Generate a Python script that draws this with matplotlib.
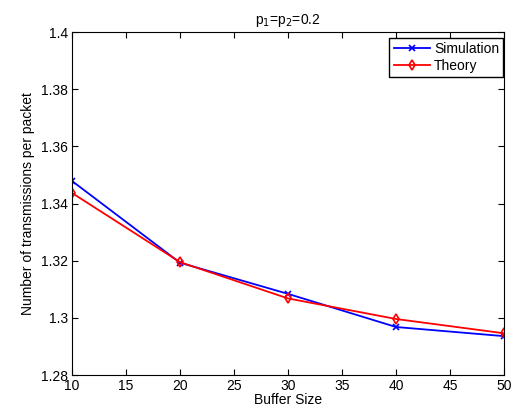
import matplotlib
matplotlib.use('Agg')
import matplotlib.pyplot as plt

plt.rcParams['font.family'] = ['Liberation Sans', 'DejaVu Sans']

# Data
buffer_size = [10, 20, 30, 40, 50]
simulasi = [1.3479, 1.3193, 1.3084, 1.2968, 1.2936]
teori = [1.3437, 1.3195, 1.3068, 1.2996, 1.2946]

fig = plt.figure(figsize=(5.22, 4.12), dpi=100)
ax = fig.add_axes([0.138, 0.0898, 0.8275, 0.8322])

ax.plot(buffer_size, simulasi, 'b-x', lw=1.3, ms=4, mew=1.2, label='Simulation')
ax.plot(buffer_size, teori, 'r-d', lw=1.3, ms=5, mew=1.2, mfc='none', label='Theory')

ax.set_xlim(10, 50)
ax.set_ylim(1.28, 1.4)
ax.set_xticks([10, 15, 20, 25, 30, 35, 40, 45, 50])
ax.set_yticks([1.28, 1.3, 1.32, 1.34, 1.36, 1.38, 1.4])
ax.set_yticklabels(['1.28', '1.3', '1.32', '1.34', '1.36', '1.38', '1.4'])
ax.tick_params(direction='in', top=True, right=True, labelsize=10, length=4, pad=3)
ax.set_xlabel('Buffer Size', fontsize=10, labelpad=0)
ax.set_ylabel('Number of transmissions per packet', fontsize=10)
ax.set_title('p$_1$=p$_2$=0.2', fontsize=10)
ax.legend(loc='upper right', bbox_to_anchor=(0.998, 0.983), fontsize=10,
          fancybox=False, edgecolor='black', framealpha=1, handlelength=2.6,
          borderpad=0.3, labelspacing=0.2, borderaxespad=0, handletextpad=0.3)

fig.savefig('out.png', dpi=100)
